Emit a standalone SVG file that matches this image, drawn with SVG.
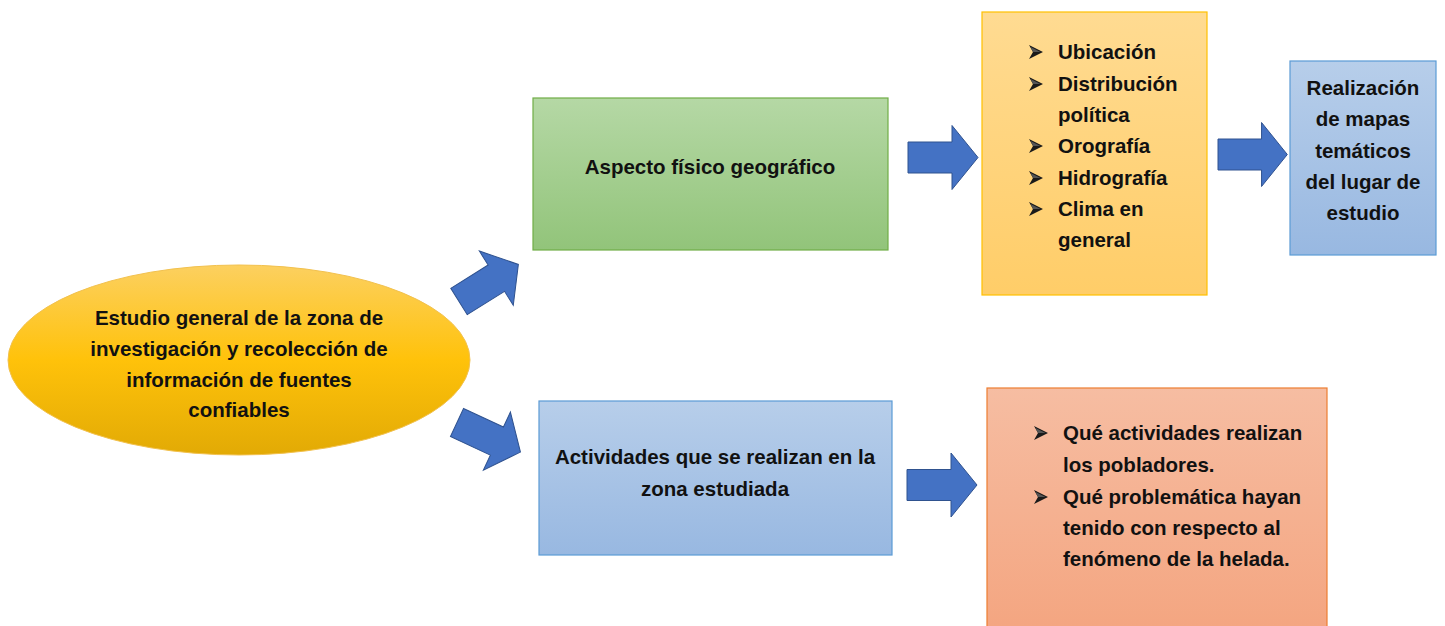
<svg xmlns="http://www.w3.org/2000/svg" width="1445" height="626" viewBox="0 0 1445 626">
<defs>
<linearGradient id="gY" x1="0" y1="0" x2="0" y2="1"><stop offset="0" stop-color="#FCD060"/><stop offset="0.5" stop-color="#FFC20A"/><stop offset="1" stop-color="#E2AA05"/></linearGradient>
<linearGradient id="gG" x1="0" y1="0" x2="0" y2="1"><stop offset="0" stop-color="#B5D8A5"/><stop offset="1" stop-color="#92C47A"/></linearGradient>
<linearGradient id="gB" x1="0" y1="0" x2="0" y2="1"><stop offset="0" stop-color="#B7CEEA"/><stop offset="1" stop-color="#98B8E1"/></linearGradient>
<linearGradient id="gO" x1="0" y1="0" x2="0" y2="1"><stop offset="0" stop-color="#FFDB92"/><stop offset="1" stop-color="#FFCD68"/></linearGradient>
<linearGradient id="gS" x1="0" y1="0" x2="0" y2="1"><stop offset="0" stop-color="#F6BDA2"/><stop offset="1" stop-color="#F4A580"/></linearGradient>
<path id="arr" d="M0,-15.5 H44 V-32 L70,0 L44,32 V15.5 H0 Z"/>
<g id="bul"><path d="M0,-7 L14,0 L0,7 L4,0 Z" fill="#1a1a1a"/><path d="M1.5,-5 L11.5,0 L4,0 Z" fill="#555"/></g>
</defs>
<style>
.t{font-family:"Liberation Sans",Arial,sans-serif;font-weight:bold;font-size:20.5px;fill:#111}
.c{text-anchor:middle}
.a{fill:#4472C4;stroke:#2F528F;stroke-width:1}
</style>
<rect width="1445" height="626" fill="#fff"/>
<g id="connectors">
<use href="#arr" class="a" transform="translate(459,301.5) rotate(-32)"/>
<use href="#arr" class="a" transform="translate(457,422.5) rotate(25)"/>
<use href="#arr" class="a" transform="translate(908,157.5)"/>
<use href="#arr" class="a" transform="translate(1218,154.5) scale(0.99,1)"/>
<use href="#arr" class="a" transform="translate(907,485)"/>
</g>
<g id="node-estudio">
<ellipse cx="239" cy="360" rx="231" ry="95" fill="url(#gY)" stroke="#F2C14E" stroke-width="1"/>
<text class="t c" x="239" y="325">Estudio general de la zona de</text>
<text class="t c" x="239" y="356">investigación y recolección de</text>
<text class="t c" x="239" y="387">información de fuentes</text>
<text class="t c" x="239" y="417">confiables</text>
</g>
<g id="node-aspecto">
<rect x="533" y="98" width="355" height="152" fill="url(#gG)" stroke="#70AD47" stroke-width="1.2"/>
<text class="t c" x="710" y="174">Aspecto físico geográfico</text>
</g>
<g id="node-actividades">
<rect x="539" y="401" width="353" height="154" fill="url(#gB)" stroke="#5B9BD5" stroke-width="1.2"/>
<text class="t c" x="715" y="464">Actividades que se realizan en la</text>
<text class="t c" x="715" y="496">zona estudiada</text>
</g>
<g id="node-lista-fisico">
<rect x="982" y="12" width="225" height="283" fill="url(#gO)" stroke="#FFC000" stroke-width="1.2"/>
<use href="#bul" x="1029" y="52"/>
<text class="t" x="1058" y="59">Ubicación</text>
<use href="#bul" x="1029" y="84"/>
<text class="t" x="1058" y="91">Distribución</text>
<text class="t" x="1058" y="122">política</text>
<use href="#bul" x="1029" y="146"/>
<text class="t" x="1058" y="153">Orografía</text>
<use href="#bul" x="1029" y="178"/>
<text class="t" x="1058" y="185">Hidrografía</text>
<use href="#bul" x="1029" y="209"/>
<text class="t" x="1058" y="216">Clima en</text>
<text class="t" x="1058" y="247">general</text>
</g>
<g id="node-mapas">
<rect x="1290" y="61" width="146" height="194" fill="url(#gB)" stroke="#5B9BD5" stroke-width="1.2"/>
<text class="t c" x="1363" y="95">Realización</text>
<text class="t c" x="1363" y="126">de mapas</text>
<text class="t c" x="1363" y="158">temáticos</text>
<text class="t c" x="1363" y="189">del lugar de</text>
<text class="t c" x="1363" y="220">estudio</text>
</g>
<g id="node-lista-actividades">
<rect x="987" y="388" width="340" height="245" fill="url(#gS)" stroke="#ED7D31" stroke-width="1.2"/>
<use href="#bul" x="1034" y="433"/>
<text class="t" x="1063" y="440">Qué actividades realizan</text>
<text class="t" x="1063" y="472">los pobladores.</text>
<use href="#bul" x="1034" y="497"/>
<text class="t" x="1063" y="504">Qué problemática hayan</text>
<text class="t" x="1063" y="535">tenido con respecto al</text>
<text class="t" x="1063" y="566">fenómeno de la helada.</text>
</g>
</svg>
